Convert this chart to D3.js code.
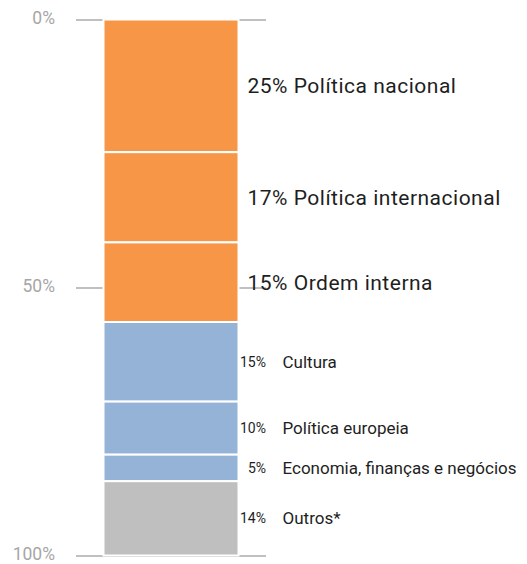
<!DOCTYPE html>
<html>
<head>
<meta charset="utf-8">
<script src="https://cdn.jsdelivr.net/npm/d3@7"></script>
<style>
  html, body { margin: 0; padding: 0; background: #fff; }
  svg { display: block; font-family: Roboto, "DejaVu Sans", sans-serif; }
</style>
</head>
<body>
<svg id="chart" width="527" height="564"></svg>
<script>
// Topics, in stacking order from the top of the bar
const topics = [
  "Política nacional",
  "Política internacional",
  "Ordem interna",
  "Cultura",
  "Política europeia",
  "Economia, finanças e negócios",
  "Outros*"
];
// Share of each topic, in percent
const shares = [25, 17, 15, 15, 10, 5, 14];
// Topic group: 1 = politics & order, 2 = society & economy, 3 = other
const groups = [1, 1, 1, 2, 2, 2, 3];
// Axis ticks (percent)
const axisTicks = [0, 50, 100];

const svg = d3.select("#chart");

const total = d3.sum(shares);
let acc = 0;
const segments = shares.map((v, i) => {
  const start = acc / total * 100;
  acc += v;
  return { topic: topics[i], value: v, group: groups[i], start, end: acc / total * 100 };
});

const y = d3.scaleLinear().domain([0, 100]).range([19.5, 555.5]);
const x = d3.scaleBand().domain(["all"]).range([103.5, 238.5]).padding(0);

const color = d3.scaleOrdinal().domain([1, 2, 3]).range(["#F79646", "#95B3D7", "#BFBFBF"]);

// Axis with gridline-style ticks crossing the bar
const axis = d3.axisLeft(y)
  .tickValues(axisTicks)
  .tickFormat(d => d + "%")
  .tickSize(-190)
  .tickPadding(21);

const gAxis = svg.append("g")
  .attr("transform", "translate(76,0)")
  .call(axis);
gAxis.select(".domain").remove();
gAxis.selectAll(".tick line")
  .attr("stroke", "#C0C0C0")
  .attr("stroke-width", 2);
gAxis.selectAll(".tick text")
  .attr("fill", "#A6A6A6")
  .attr("dy", "0.24em")
  .style("font-size", "17.5px")
  .style("font-family", "Roboto, sans-serif");

// Stacked bar
svg.append("g")
  .selectAll("rect")
  .data(segments)
  .join("rect")
  .attr("x", x("all"))
  .attr("width", x.bandwidth())
  .attr("y", d => y(d.start))
  .attr("height", d => y(d.end) - y(d.start))
  .attr("fill", d => color(d.group))
  .attr("stroke", "#fff")
  .attr("stroke-width", 2);

// Labels beside the bar
const barRight = x("all") + x.bandwidth();
const labels = svg.append("g")
  .selectAll("g")
  .data(segments)
  .join("g")
  .attr("transform", d => `translate(0,${(y(d.start) + y(d.end)) / 2})`);

labels.filter(d => d.group === 1)
  .append("text")
  .attr("x", barRight + 9)
  .attr("dy", "0.36em")
  .attr("fill", "#1E1E1E")
  .style("font-size", "21px")
  .style("letter-spacing", "0.5px")
  .text(d => `${d.value}% ${d.topic}`);

labels.filter(d => d.group !== 1)
  .call(g => g.append("text")
    .attr("x", barRight + 27.5)
    .attr("dy", "0.36em")
    .attr("text-anchor", "end")
    .attr("fill", "#1E1E1E")
    .style("font-size", "14px")
    .text(d => `${d.value}%`))
  .call(g => g.append("text")
    .attr("x", barRight + 44)
    .attr("dy", "0.36em")
    .attr("fill", "#1E1E1E")
    .style("font-size", "17px")
    .text(d => d.topic));
</script>
</body>
</html>
